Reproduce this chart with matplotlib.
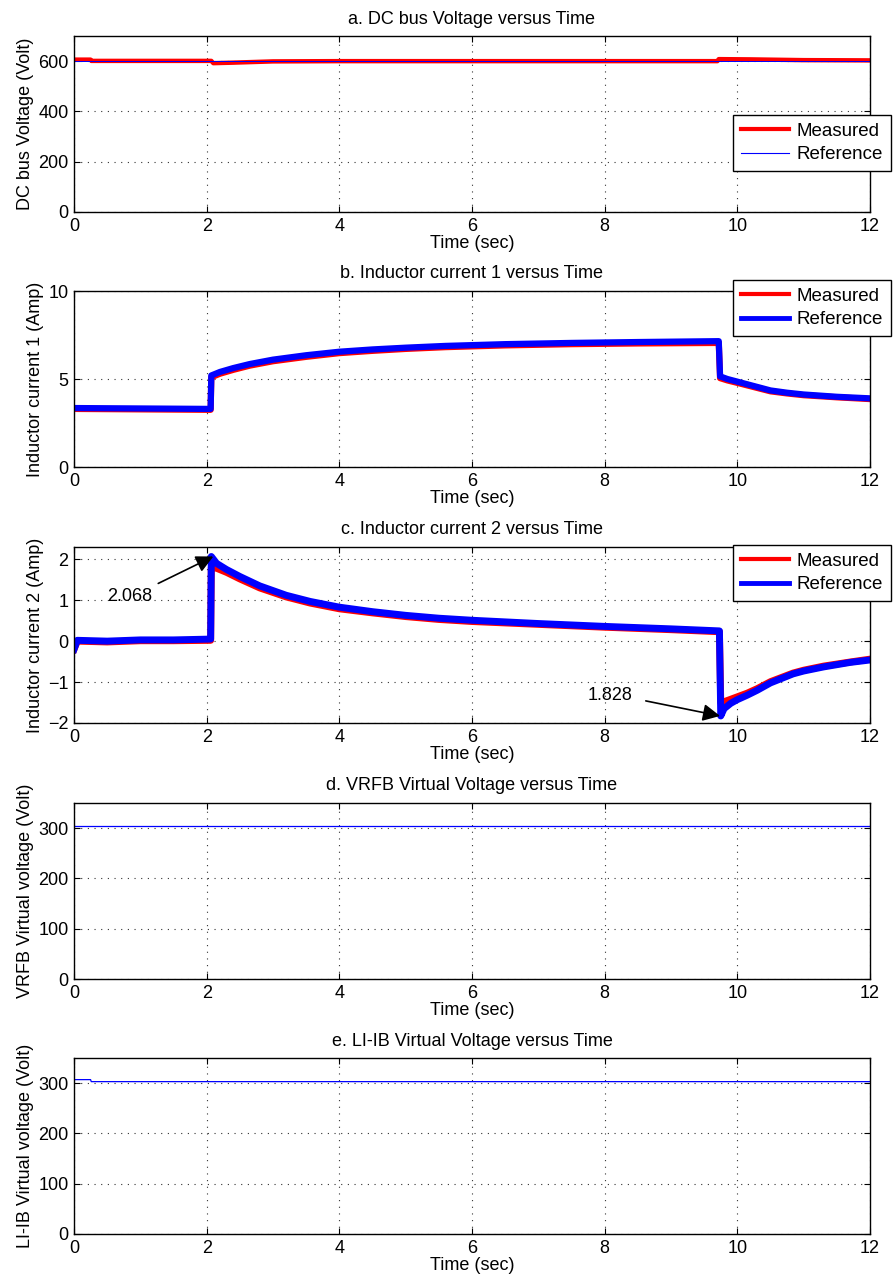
import matplotlib
matplotlib.use("Agg")
import matplotlib.pyplot as plt

plt.rcParams['font.family'] = ['Liberation Sans', 'DejaVu Sans']
plt.rcParams['font.size'] = 13

# a. DC bus voltage
t_vdc_meas = [0, 0.25, 0.26, 2.07, 2.1, 2.4, 3.0, 4.0, 9.7, 9.72, 10.2, 11.0, 12.0]
vdc_meas = [606, 606, 601, 601, 592, 594, 599, 600, 600, 608, 607, 604, 603]
t_vdc_ref = [0, 12]
vdc_ref = [600, 600]

# b. inductor current 1
t_i1 = [0, 2.06, 2.07, 2.2, 2.4, 2.65, 3.0, 3.5, 4.0, 4.5, 5.0, 5.6, 6.5, 7.5, 8.5,
        9.72, 9.74, 9.85, 10.0, 10.25, 10.5, 10.75, 11.0, 11.5, 12.0]
i1_ref = [3.35, 3.3, 5.2, 5.4, 5.62, 5.85, 6.1, 6.35, 6.55, 6.68, 6.78, 6.88, 6.98, 7.05, 7.1,
          7.15, 5.15, 5.0, 4.85, 4.6, 4.35, 4.22, 4.12, 3.99, 3.9]
i1_meas = [3.3, 3.25, 5.1, 5.3, 5.52, 5.76, 6.01, 6.26, 6.47, 6.6, 6.71, 6.81, 6.91, 6.98, 7.02,
           7.05, 5.05, 4.92, 4.78, 4.54, 4.3, 4.18, 4.08, 3.96, 3.86]

# c. inductor current 2
t_i2 = [0, 0.05, 0.5, 1.0, 1.5, 2.06, 2.07, 2.15, 2.3, 2.5, 2.8, 3.2, 3.56, 4.0, 4.5, 5.0,
        5.5, 6.0, 7.0, 8.0, 9.0, 9.73, 9.75, 9.8, 9.9, 10.0, 10.15, 10.3, 10.5, 10.84,
        11.0, 11.3, 11.7, 12.0]
i2_ref = [-0.2, 0.02, 0.0, 0.03, 0.03, 0.05, 2.068, 1.9, 1.75, 1.58, 1.35, 1.12, 0.97, 0.83,
          0.72, 0.63, 0.56, 0.51, 0.43, 0.36, 0.3, 0.25, -1.828, -1.65, -1.52, -1.43, -1.32,
          -1.2, -1.02, -0.8, -0.73, -0.63, -0.52, -0.46]
i2_meas = [-0.2, 0.0, -0.02, 0.01, 0.01, 0.02, 1.8, 1.78, 1.68, 1.52, 1.3, 1.08, 0.93, 0.79,
           0.69, 0.6, 0.53, 0.48, 0.41, 0.34, 0.28, 0.23, -1.5, -1.48, -1.42, -1.36, -1.27,
           -1.16, -0.99, -0.78, -0.71, -0.61, -0.51, -0.44]
peak_pos, peak_neg = 2.068, -1.828

# d. VRFB and e. LI-IB virtual voltages
t_vrfb = [0, 12]
v_vrfb = [304, 304]
t_liib = [0, 0.25, 0.26, 12]
v_liib = [307, 307, 303, 303]

W, H = 894, 1286
fig = plt.figure(figsize=(W / 100, H / 100), dpi=100)

left, width, height = 74 / W, 796 / W, 176 / H
bottoms = [212, 467, 723, 979, 1234]


def make_axes(bottom_px, ylim, yticks, title, ylabel):
    ax = fig.add_axes([left, 1 - bottom_px / H, width, height])
    ax.set_xlim(0, 12)
    ax.set_ylim(*ylim)
    ax.set_xticks(range(0, 13, 2))
    ax.set_yticks(yticks)
    ax.grid(True, linestyle=(0, (1, 5)), color='0.2', linewidth=0.8)
    ax.tick_params(direction='in', top=True, right=True, length=4, width=0.8, pad=4)
    ax.set_title(title, fontsize=13, pad=9)
    ax.set_xlabel('Time (sec)', labelpad=0)
    ax.set_ylabel(ylabel, labelpad=3)
    for s in ax.spines.values():
        s.set_linewidth(1.0)
    return ax


def add_legend(ax, top_px, lw_ref):
    leg = ax.legend(['Measured', 'Reference'], loc='upper left',
                    bbox_to_anchor=(733 / W, 1 - top_px / H),
                    bbox_transform=fig.transFigure, fancybox=False,
                    edgecolor='black', framealpha=1, borderaxespad=0,
                    handlelength=2.6, borderpad=0.4, labelspacing=0.35,
                    handletextpad=0.4, fontsize=13.5)
    leg.get_frame().set_linewidth(1.0)
    lines = leg.get_lines()
    lines[0].set_linewidth(3)
    lines[1].set_linewidth(lw_ref)
    return leg


# a
ax = make_axes(bottoms[0], (0, 700), [0, 200, 400, 600],
               'a. DC bus Voltage versus Time', 'DC bus Voltage (Volt)')
ax.plot(t_vdc_meas, vdc_meas, color='red', lw=3.2)
ax.plot(t_vdc_ref, vdc_ref, color='blue', lw=0.7)
add_legend(ax, 115, 0.8)

# b
ax = make_axes(bottoms[1], (0, 10), [0, 5, 10],
               'b. Inductor current 1 versus Time', 'Inductor current 1 (Amp)')
ax.plot(t_i1, i1_meas, color='red', lw=4.5)
ax.plot(t_i1, i1_ref, color='blue', lw=4.5)
add_legend(ax, 280, 3.5)

# c
ax = make_axes(bottoms[2], (-2, 2.3), [-2, -1, 0, 1, 2],
               'c. Inductor current 2 versus Time', 'Inductor current 2 (Amp)')
ax.plot(t_i2, i2_meas, color='red', lw=5)
ax.plot(t_i2, i2_ref, color='blue', lw=5)
add_legend(ax, 545, 3.5)
ax.text(0.84, 1.1, f'{peak_pos:.3f}', ha='center', va='center')
ax.annotate('', xy=(2.1, peak_pos), xytext=(1.27, 1.41),
            arrowprops=dict(arrowstyle='-|>', color='black', lw=1.2,
                            mutation_scale=26, shrinkA=0, shrinkB=0))
ax.text(8.08, -1.32, f'{-peak_neg:.3f}', ha='center', va='center')
ax.annotate('', xy=(9.74, peak_neg), xytext=(8.62, -1.46),
            arrowprops=dict(arrowstyle='-|>', color='black', lw=1.2,
                            mutation_scale=26, shrinkA=0, shrinkB=0))

# d
ax = make_axes(bottoms[3], (0, 350), [0, 100, 200, 300],
               'd. VRFB Virtual Voltage versus Time', 'VRFB Virtual voltage (Volt)')
ax.plot(t_vrfb, v_vrfb, color='blue', lw=0.9)

# e
ax = make_axes(bottoms[4], (0, 350), [0, 100, 200, 300],
               'e. LI-IB Virtual Voltage versus Time', 'LI-IB Virtual voltage (Volt)')
ax.plot(t_liib, v_liib, color='blue', lw=0.9)

fig.savefig('out.png', dpi=100)
